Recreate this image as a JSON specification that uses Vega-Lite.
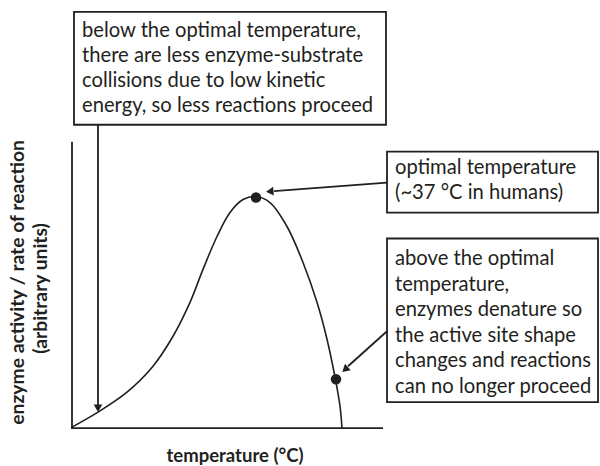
{
  "$schema": "https://vega.github.io/schema/vega-lite/v6.json",
  "width": 600,
  "height": 466,
  "padding": 0,
  "autosize": {"type": "fit", "contains": "padding"},
  "background": "white",
  "config": {"view": {"stroke": null}},
  "datasets": {
    "curve": [
      {"x": 72, "y": 428}, {"x": 98, "y": 413}, {"x": 127, "y": 393}, {"x": 153, "y": 367},
      {"x": 173, "y": 337}, {"x": 190, "y": 303}, {"x": 203, "y": 270}, {"x": 217, "y": 237},
      {"x": 230, "y": 213}, {"x": 243, "y": 200}, {"x": 256, "y": 197}, {"x": 270, "y": 203},
      {"x": 287, "y": 227}, {"x": 303, "y": 263}, {"x": 317, "y": 303}, {"x": 327, "y": 340},
      {"x": 335, "y": 378}, {"x": 340, "y": 407}, {"x": 342, "y": 429}
    ],
    "boxes": [
      {"x": 74, "x2": 386, "y": 12, "y2": 125},
      {"x": 387, "x2": 598, "y": 152, "y2": 213},
      {"x": 387, "x2": 598, "y": 239, "y2": 403}
    ],
    "rules": [
      {"x": 72, "y": 142, "x2": 72, "y2": 429},
      {"x": 71, "y": 429, "x2": 383, "y2": 429},
      {"x": 98, "y": 125, "x2": 98, "y2": 406},
      {"x": 387, "y": 183, "x2": 274, "y2": 191.5},
      {"x": 387, "y": 332, "x2": 348, "y2": 367}
    ],
    "heads": [
      {"x": 98, "y": 408, "angle": 180},
      {"x": 271, "y": 191.7, "angle": 265.7},
      {"x": 346, "y": 369.5, "angle": 227.8}
    ],
    "dots": [
      {"x": 256, "y": 198},
      {"x": 336, "y": 380}
    ],
    "labels": [
      {"x": 82, "y": 31, "text": "below the optimal temperature,"},
      {"x": 82, "y": 56, "text": "there are less enzyme-substrate"},
      {"x": 82, "y": 81, "text": "collisions due to low kinetic"},
      {"x": 82, "y": 106, "text": "energy, so less reactions proceed"},
      {"x": 395, "y": 168, "text": "optimal temperature"},
      {"x": 395, "y": 193, "text": "(~37 °C in humans)"},
      {"x": 395, "y": 260, "text": "above the optimal"},
      {"x": 395, "y": 286, "text": "temperature,"},
      {"x": 395, "y": 311, "text": "enzymes denature so"},
      {"x": 395, "y": 337, "text": "the active site shape"},
      {"x": 395, "y": 362, "text": "changes and reactions"},
      {"x": 395, "y": 388, "text": "can no longer proceed"}
    ],
    "xtitle": [
      {"x": 235, "y": 457, "text": "temperature (°C)"}
    ],
    "ytitle": [
      {"x": 18, "y": 283, "text": "enzyme activity / rate of reaction"},
      {"x": 41, "y": 289, "text": "(arbitrary units)"}
    ]
  },
  "layer": [
    {
      "data": {"name": "boxes"},
      "mark": {"type": "rect", "fill": "white", "stroke": "#231f20", "strokeWidth": 1.8},
      "encoding": {
        "x": {"field": "x", "type": "quantitative", "scale": {"domain": [0, 600], "nice": false, "zero": false}, "axis": null},
        "x2": {"field": "x2"},
        "y": {"field": "y", "type": "quantitative", "scale": {"domain": [0, 466], "nice": false, "zero": false, "reverse": true}, "axis": null},
        "y2": {"field": "y2"}
      }
    },
    {
      "data": {"name": "rules"},
      "mark": {"type": "rule", "stroke": "#231f20", "strokeWidth": 1.8},
      "encoding": {
        "x": {"field": "x", "type": "quantitative"},
        "x2": {"field": "x2"},
        "y": {"field": "y", "type": "quantitative"},
        "y2": {"field": "y2"}
      }
    },
    {
      "data": {"name": "curve"},
      "mark": {"type": "line", "stroke": "#231f20", "strokeWidth": 1.6, "interpolate": "catmull-rom"},
      "encoding": {
        "x": {"field": "x", "type": "quantitative"},
        "y": {"field": "y", "type": "quantitative"}
      }
    },
    {
      "data": {"name": "heads"},
      "mark": {"type": "point", "shape": "triangle", "filled": true, "fill": "#231f20", "opacity": 1, "size": 75, "strokeWidth": 0},
      "encoding": {
        "x": {"field": "x", "type": "quantitative"},
        "y": {"field": "y", "type": "quantitative"},
        "angle": {"field": "angle", "type": "quantitative", "scale": null}
      }
    },
    {
      "data": {"name": "dots"},
      "mark": {"type": "circle", "fill": "#231f20", "opacity": 1, "size": 110},
      "encoding": {
        "x": {"field": "x", "type": "quantitative"},
        "y": {"field": "y", "type": "quantitative"}
      }
    },
    {
      "data": {"name": "labels"},
      "mark": {"type": "text", "align": "left", "baseline": "middle", "font": "Lato", "fontSize": 20.2, "fill": "#231f20"},
      "encoding": {
        "x": {"field": "x", "type": "quantitative"},
        "y": {"field": "y", "type": "quantitative"},
        "text": {"field": "text"}
      }
    },
    {
      "data": {"name": "xtitle"},
      "mark": {"type": "text", "align": "center", "baseline": "middle", "font": "Lato", "fontWeight": "bold", "fontSize": 18.5, "fill": "#231f20"},
      "encoding": {
        "x": {"field": "x", "type": "quantitative"},
        "y": {"field": "y", "type": "quantitative"},
        "text": {"field": "text"}
      }
    },
    {
      "data": {"name": "ytitle"},
      "mark": {"type": "text", "align": "center", "baseline": "middle", "angle": 270, "font": "Lato", "fontWeight": "bold", "fontSize": 19.3, "fill": "#231f20"},
      "encoding": {
        "x": {"field": "x", "type": "quantitative"},
        "y": {"field": "y", "type": "quantitative"},
        "text": {"field": "text"}
      }
    }
  ]
}
